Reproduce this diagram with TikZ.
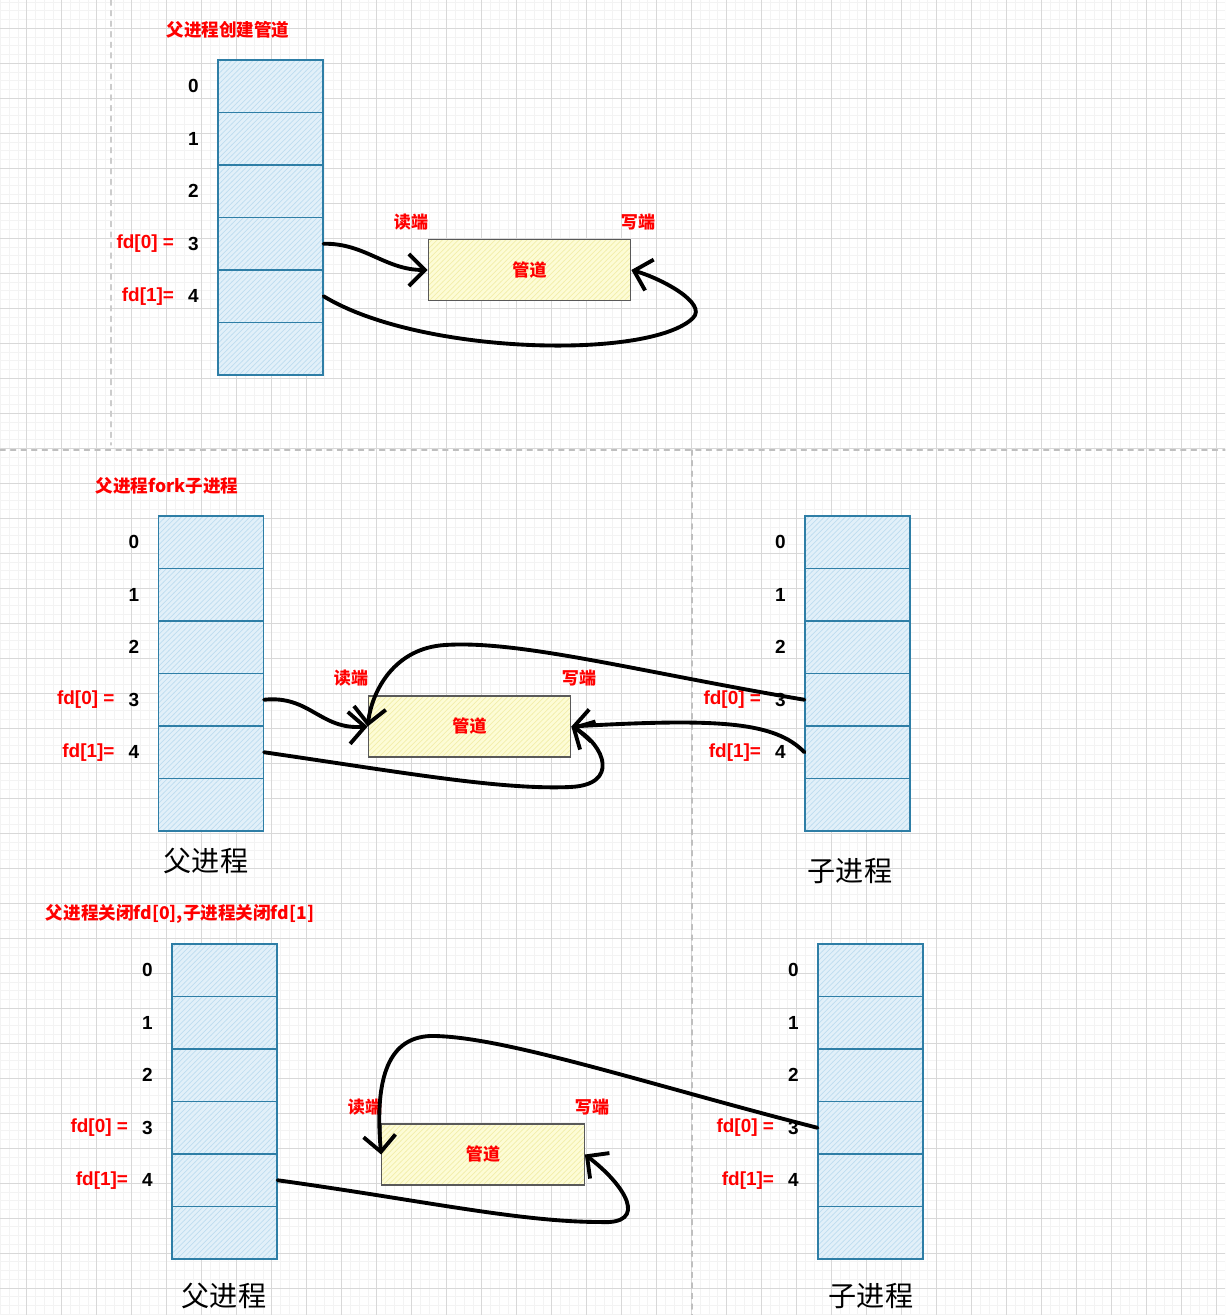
\documentclass[tikz,border=0pt]{standalone}
\usepackage{fontspec}
\newfontfamily\cjk{Noto Sans CJK SC}
\newfontfamily\arialf{Liberation Sans}
\usetikzlibrary{arrows.meta,positioning,patterns}

\definecolor{cellline}{RGB}{46,126,166}
\definecolor{cellfill}{RGB}{226,240,249}
\definecolor{cellhatch}{RGB}{190,221,240}
\definecolor{pipefill}{RGB}{253,252,214}
\definecolor{pipehatch}{RGB}{242,238,170}
\definecolor{gridmajor}{RGB}{216,216,216}
\definecolor{gridminor}{RGB}{243,243,243}

\begin{document}
\begin{tikzpicture}[
    x=0.02cm, y=-0.02cm, line cap=round,
    >={Straight Barb[length=3.2mm,width=6.4mm]},
    fdcell/.style={draw=cellline,line width=0.7pt,minimum width=2.1cm,minimum height=1.05cm,inner sep=0pt,
                   preaction={fill=cellfill},pattern=north east lines,pattern color=cellhatch},
    pipebox/.style={draw=black!65,line width=0.7pt,minimum width=4.05cm,minimum height=1.22cm,inner sep=0pt,
                    preaction={fill=pipefill},pattern=north east lines,pattern color=pipehatch,
                    font=\cjk\bfseries\fontsize{9.7}{11}\selectfont,text=red},
    idx/.style={font=\arialf\bfseries\fontsize{10.8}{12}\selectfont,inner sep=1pt},
    fdlbl/.style={font=\arialf\bfseries\fontsize{10.8}{12}\selectfont,text=red,inner sep=1pt},
    endlbl/.style={font=\cjk\bfseries\fontsize{9.7}{11}\selectfont,text=red},
    ttl/.style={font=\cjk\bfseries\fontsize{10}{12}\selectfont,text=red},
    proc/.style={font=\cjk\fontsize{16}{18}\selectfont},
    wire/.style={->,line width=2.2pt},
]
\useasboundingbox (0,0) rectangle (1225,1315);

% background grid of the drawing canvas
\fill[white] (0,0) rectangle (1225,1315);
\begin{scope}
\clip (0,0) rectangle (1225,1315);
\draw[gridminor,line width=0.4pt,shift={(26.7,28.3)},step=0.175cm] (-35,1350) grid (1260,-35);
\draw[gridmajor,line width=0.5pt,shift={(26.7,28.3)},step=0.7cm] (-35,1350) grid (1260,-35);
\end{scope}
\draw[black!25,dashed,line width=0.6pt] (0,450) -- (1225,450);
\draw[black!25,dashed,line width=0.6pt] (692,450) -- (692,1315);
\draw[black!20,dashed,line width=0.6pt] (111,0) -- (111,445);

% ================= A: parent creates the pipe =================
\node[ttl] (ttlA) at (228,30) {父进程创建管道};
\foreach \i in {0,...,5} { \node[fdcell] (pA\i) at (270.5,86.25+\i*52.5) {}; }
\foreach \i in {0,...,4} { \node[idx,left=0.33cm of pA\i] (iA\i) {\i}; }
\node[fdlbl,left=0.2cm of iA3] (fA0) {fd[0] =};
\node[fdlbl,left=0.2cm of iA4] (fA1) {fd[1]=};
\node[pipebox] (pipeA) at (529.5,270) {管道};
\node[endlbl] (rdA) at (411,222) {读端};
\node[endlbl] (wrA) at (638,222) {写端};
\coordinate (loopA) at (693,318);
\draw[wire] (pA3.east) .. controls (365,243) and (385,270) .. (pipeA.west);
\draw[wire] (pA4.east) .. controls (420,355) and (650,360) .. (loopA) .. controls (708,303) and (660,278) .. (pipeA.east);

% ================= B: parent forks the child =================
\node[ttl] (ttlB) at (167,486) {父进程fork子进程};
\foreach \i in {0,...,5} { \node[fdcell] (pB\i) at (211,542.25+\i*52.5) {}; }
\foreach \i in {0,...,5} { \node[fdcell] (cB\i) at (857.5,542.25+\i*52.5) {}; }
\foreach \i in {0,...,4} { \node[idx,left=0.33cm of pB\i] (iB\i) {\i}; \node[idx,left=0.33cm of cB\i] (jB\i) {\i}; }
\node[fdlbl,left=0.2cm of iB3] (fB0) {fd[0] =};
\node[fdlbl,left=0.2cm of iB4] (fB1) {fd[1]=};
\node[fdlbl,left=0.2cm of jB3] (gB0) {fd[0] =};
\node[fdlbl,left=0.2cm of jB4] (gB1) {fd[1]=};
\node[pipebox] (pipeB) at (469.5,726.5) {管道};
\node[endlbl] (rdB) at (351,678) {读端};
\node[endlbl] (wrB) at (579,678) {写端};
\node[proc] (parB) at (206,861) {父进程};
\node[proc] (chB) at (850,871) {子进程};
\coordinate (topB) at (445,645);
\coordinate (botB) at (570,787);
\draw[wire] (pB3.east) .. controls (310,695) and (320,730) .. (pipeB.west);
\draw[wire] (cB3.west) .. controls (640,672) and (520,640) .. (topB) .. controls (395,648) and (372,690) .. (pipeB.west);
\draw[wire] (pB4.east) .. controls (400,772) and (500,790) .. (botB) .. controls (620,785) and (605,745) .. (pipeB.east);
\draw[wire] (cB4.west) .. controls (775,722) and (720,718) .. (pipeB.east);

% ================= C: each side closes one end =================
\node[ttl] (ttlC) at (180,914) {父进程关闭fd[0],子进程关闭fd[1]};
\foreach \i in {0,...,5} { \node[fdcell] (pC\i) at (224.5,970.25+\i*52.5) {}; }
\foreach \i in {0,...,5} { \node[fdcell] (cC\i) at (870.5,970.25+\i*52.5) {}; }
\foreach \i in {0,...,4} { \node[idx,left=0.33cm of pC\i] (iC\i) {\i}; \node[idx,left=0.33cm of cC\i] (jC\i) {\i}; }
\node[fdlbl,left=0.2cm of iC3] (fC0) {fd[0] =};
\node[fdlbl,left=0.2cm of iC4] (fC1) {fd[1]=};
\node[fdlbl,left=0.2cm of jC3] (gC0) {fd[0] =};
\node[fdlbl,left=0.2cm of jC4] (gC1) {fd[1]=};
\node[pipebox] (pipeC) at (483,1154.5) {管道};
\node[endlbl] (rdC) at (365,1107) {读端};
\node[endlbl] (wrC) at (592,1107) {写端};
\node[proc] (parC) at (224,1296) {父进程};
\node[proc] (chC) at (871,1296) {子进程};
\coordinate (topC) at (430,1036);
\coordinate (botC) at (600,1222);
\draw[wire] (cC3.west) .. controls (650,1085) and (500,1035) .. (topC) .. controls (385,1038) and (375,1085) .. (pipeC.west);
\draw[wire] (pC4.east) .. controls (420,1200) and (520,1222) .. (botC) .. controls (650,1225) and (625,1185) .. (pipeC.east);

\end{tikzpicture}
\end{document}
